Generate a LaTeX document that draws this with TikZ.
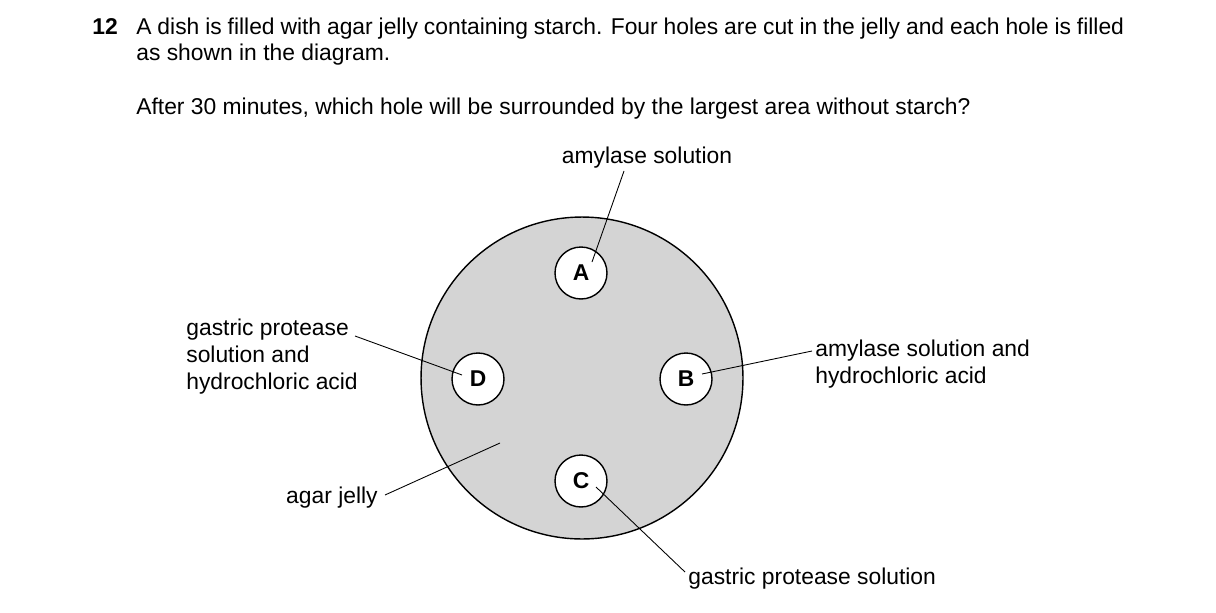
\documentclass[tikz,border=0pt]{standalone}
\usepackage{fontspec}
\setmainfont{Liberation Sans}
\begin{document}
\begin{tikzpicture}[x=0.02cm,y=-0.02cm,
  hole/.style={circle,draw,fill=white,line width=0.8pt,minimum size=1.04cm,inner sep=0pt,font=\fontsize{13}{15}\selectfont\bfseries},
  lbl/.style={inner sep=0pt,font=\fontsize{13}{15.3}\selectfont,align=left},
  ptr/.style={line width=0.5pt}]
\useasboundingbox (0,0) rectangle (1216,612);
\node[lbl,anchor=base west] (num) at (92,34) {\bfseries 12};
\node[lbl,anchor=base west,text width=19.76cm,align=justify] (q) at (136,34) {A dish is filled with agar jelly containing starch. Four holes are cut in the jelly and each hole is filled as shown in the diagram.\\[15.3pt]After 30 minutes, which hole will be surrounded by the largest area without starch?};
\node[circle,draw,fill=black!17,line width=0.8pt,minimum size=6.44cm,inner sep=0pt] (dish) at (582,378) {};
\node[hole] (A) at (581,273) {A};
\node[hole] (B) at (686,379) {B};
\node[hole] (D) at (478,379) {D};
\node[hole] (C) at (581,481) {C};
\node[lbl] (la) at (647,158) {amylase solution};
\node[lbl,anchor=north west] (ld) at (186,319) {gastric protease\\solution and\\hydrochloric acid};
\node[lbl,anchor=north west] (lb) at (815,340) {amylase solution and\\hydrochloric acid};
\node[lbl,anchor=east] (lj) at (378,498) {agar jelly};
\node[lbl,anchor=west] (lc) at (688,579) {gastric protease solution};
\coordinate (pa) at (592,262);
\coordinate (pd) at (462,375);
\coordinate (pb) at (702,374);
\coordinate (pj) at (500,443);
\coordinate (pc) at (596,487);
\draw[ptr] (624,171) -- (pa);
\draw[ptr] (355,336) -- (pd);
\draw[ptr] (812,351) -- (pb);
\draw[ptr] (385,495) -- (pj);
\draw[ptr] (685,572) -- (pc);
\end{tikzpicture}
\end{document}
